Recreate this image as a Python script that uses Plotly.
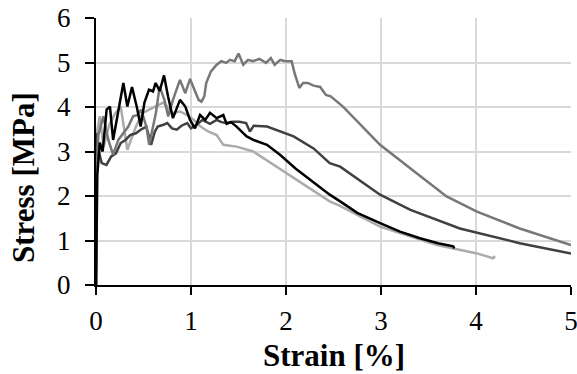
import plotly.graph_objects as go

# ---- data ----
black_x = [0, 0.005, 0.014, 0.04, 0.07, 0.112, 0.147, 0.18, 0.235, 0.288, 0.33, 0.379, 0.432, 0.47, 0.51, 0.558, 0.6,
           0.628, 0.67, 0.716, 0.758, 0.81, 0.884, 0.94, 0.99, 1.042, 1.095, 1.15, 1.2, 1.27, 1.34, 1.375, 1.42, 1.48,
           1.586, 1.656, 1.8, 1.94, 2.1, 2.25, 2.36, 2.46, 2.57, 2.75, 2.99, 3.2, 3.41, 3.6, 3.76, 3.77]
black_y = [0, 1.9, 2.48, 3.2, 3.0, 3.94, 4.01, 3.26, 3.94, 4.54, 4.01, 4.45, 3.98, 3.56, 4.1, 4.39, 4.35,
           4.54, 4.36, 4.71, 4.24, 3.75, 4.16, 4.01, 3.71, 3.52, 3.82, 3.71, 3.87, 3.75, 3.82, 3.62, 3.66, 3.56,
           3.34, 3.26, 3.15, 2.92, 2.62, 2.38, 2.2, 2.03, 1.88, 1.62, 1.39, 1.2, 1.05, 0.94, 0.87, 0.82]

dgray_x = [0, 0.004, 0.007, 0.03, 0.06, 0.11, 0.16, 0.21, 0.26, 0.31, 0.36, 0.42, 0.47, 0.53, 0.58, 0.62, 0.65,
           0.71, 0.75, 0.8, 0.85, 0.9, 0.96, 1.0, 1.06, 1.12, 1.2, 1.27, 1.32, 1.37, 1.44, 1.51, 1.58, 1.62, 1.66,
           1.8, 1.94, 2.08, 2.29, 2.46, 2.57, 2.99, 3.31, 3.83, 4.46, 5.0]
dgray_y = [0, 2.6, 3.41, 3.0, 2.74, 2.70, 2.89, 2.96, 3.19, 3.26, 3.37, 3.41, 3.49, 3.56, 3.15, 3.45, 3.56,
           3.6, 3.64, 3.52, 3.49, 3.58, 3.64, 3.52, 3.6, 3.71, 3.62, 3.71, 3.66, 3.64, 3.67, 3.67, 3.64, 3.45, 3.58,
           3.56, 3.45, 3.34, 3.07, 2.74, 2.66, 2.03, 1.69, 1.27, 0.94, 0.71]

mgray_x = [0, 0.006, 0.025, 0.077, 0.13, 0.18, 0.235, 0.288, 0.34, 0.39, 0.44, 0.475, 0.53, 0.56, 0.6, 0.63,
           0.67, 0.72, 0.76, 0.81, 0.884, 0.94, 0.99, 1.04, 1.08, 1.11, 1.14, 1.16, 1.21, 1.27, 1.32, 1.37, 1.41,
           1.46, 1.5, 1.55, 1.6, 1.65, 1.72, 1.79, 1.84, 1.88, 1.94, 1.99, 2.06, 2.09, 2.14, 2.18, 2.23, 2.29, 2.36,
           2.42, 2.47, 2.6, 2.99, 3.375, 3.69, 4.01, 4.46, 5.0]
mgray_y = [0, 2.5, 3.37, 3.79, 3.26, 2.93, 3.26, 3.41, 3.56, 3.79, 3.82, 3.94, 3.56, 3.15, 3.56, 3.86,
           4.46, 4.16, 3.79, 4.16, 4.61, 4.31, 4.63, 4.39, 4.16, 4.12, 4.24, 4.54, 4.8, 4.95, 5.03, 4.99, 5.06,
           5.03, 5.2, 4.95, 5.06, 5.03, 5.08, 4.99, 5.1, 4.95, 5.06, 5.03, 5.03, 4.76, 4.43, 4.54, 4.54, 4.48, 4.45,
           4.27, 4.24, 4.01, 3.15, 2.51, 1.99, 1.65, 1.27, 0.90]

lgray_x = [0, 0.004, 0.007, 0.04, 0.08, 0.14, 0.2, 0.26, 0.3, 0.33, 0.42, 0.49, 0.56, 0.63, 0.709, 0.75, 0.8,
           0.884, 0.96, 1.03, 1.1, 1.18, 1.27, 1.34, 1.48, 1.656, 1.8, 1.94, 2.11, 2.29, 2.46, 2.568, 2.99, 3.59,
           4.01, 4.18, 4.2]
lgray_y = [0, 2.4, 3.41, 3.79, 3.1, 3.6, 3.85, 4.01, 3.4, 3.04, 3.56, 3.86, 3.94, 4.01, 4.1, 4.01, 3.86,
           3.9, 3.82, 3.71, 3.56, 3.45, 3.37, 3.15, 3.11, 3.0, 2.8, 2.59, 2.36, 2.1, 1.88, 1.78, 1.31, 0.90,
           0.71, 0.6, 0.65]

x_ticks = [0, 1, 2, 3, 4, 5]
y_ticks = [0, 1, 2, 3, 4, 5, 6]

series = [
    (lgray_x, lgray_y, "#ababab"),
    (dgray_x, dgray_y, "#404040"),
    (mgray_x, mgray_y, "#777777"),
    (black_x, black_y, "#000000"),
]

fig = go.Figure()
for xs, ys, col in series:
    fig.add_trace(go.Scatter(x=xs, y=ys, mode="lines",
                             line=dict(color=col, width=2.5), showlegend=False,
                             hoverinfo="skip", cliponaxis=False))

font_family = "Liberation Serif"
fig.update_layout(
    width=577, height=374,
    margin=dict(l=96, r=6, t=18, b=89),
    paper_bgcolor="white", plot_bgcolor="white",
    font=dict(family=font_family, color="black"),
    showlegend=False,
)
fig.update_xaxes(range=[0, 5], tickvals=x_ticks, ticktext=[str(v) for v in x_ticks],
                 showgrid=True, gridcolor="#d9d9d9", gridwidth=1.5,
                 showline=True, linecolor="black", linewidth=2,
                 ticks="outside", ticklen=8, tickwidth=2, tickcolor="black",
                 tickfont=dict(size=27, family=font_family), zeroline=False,
                 ticklabelstandoff=3, automargin=False, ticklabeloverflow="allow")
fig.update_yaxes(range=[0, 6], tickvals=y_ticks, ticktext=[str(v) for v in y_ticks],
                 showgrid=True, gridcolor="#d9d9d9", gridwidth=1.5,
                 showline=True, linecolor="black", linewidth=2,
                 ticks="outside", ticklen=9, tickwidth=2, tickcolor="black",
                 tickfont=dict(size=27, family=font_family), zeroline=False,
                 ticklabelstandoff=9, automargin=False, ticklabeloverflow="allow")

fig.add_annotation(text="<b>Strain [%]</b>", xref="paper", yref="paper",
                   x=(334 - 96) / 475, y=(285 - 355) / 267, xanchor="center", yanchor="middle",
                   showarrow=False, font=dict(size=31, family=font_family))
fig.add_annotation(text="<b>Stress [MPa]</b>", xref="paper", yref="paper",
                   x=(23 - 96) / 475, y=(285 - 178) / 267, xanchor="center", yanchor="middle",
                   textangle=-90, showarrow=False, font=dict(size=31, family=font_family))

fig.write_html("out.html", config={"displayModeBar": False},
               post_script="document.body.style.margin='0px';document.body.style.overflow='hidden';")
